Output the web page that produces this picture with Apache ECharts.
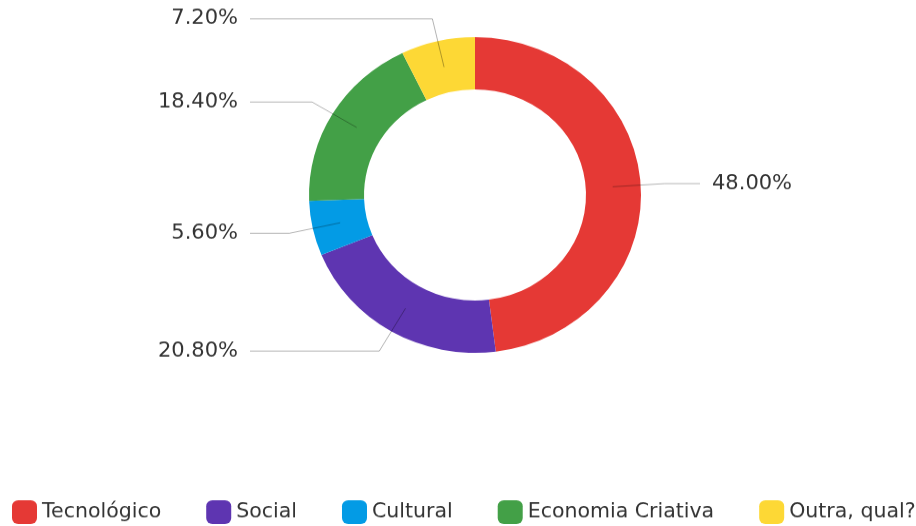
<!DOCTYPE html>
<html>
<head>
<meta charset="utf-8">
<script src="https://cdn.jsdelivr.net/npm/echarts@6/dist/echarts.min.js"></script>
<style>
  html, body { margin: 0; padding: 0; background: #ffffff; overflow: hidden; }
  #chart { width: 916px; height: 553px; transform: scaleY(0.951); transform-origin: 0 0; }
</style>
</head>
<body>
<div id="chart"></div>
<script>
// Área de atuação — participação de cada categoria (%)
const categories = ['Tecnológico', 'Social', 'Cultural', 'Economia Criativa', 'Outra, qual?'];
const shares = [48.0, 20.8, 5.6, 18.4, 7.2];
const palette = ['#e53935', '#5e35b1', '#039be5', '#43a047', '#fdd835'];

const FONT = '"DejaVu Sans", sans-serif';
const CENTER = [475, 205];
// where the horizontal leader segments stop on each side of the ring
const LEADER_END_LEFT = 250;
const LEADER_END_RIGHT = 700;
const LABEL_GAP = 12;

const ringData = categories.map((name, i) => ({
  name: name,
  value: shares[i],
  itemStyle: { color: palette[i] }
}));

// transparent inner disc: its label lines start mid-ring and cross the ring
const leaderData = categories.map((name, i) => ({
  name: name,
  value: shares[i],
  itemStyle: { color: 'rgba(0,0,0,0)' }
}));

const chart = echarts.init(document.getElementById('chart'), null, { renderer: 'canvas' });

chart.setOption({
  animation: false,
  legend: {
    data: categories,
    left: 12,
    bottom: 2,
    width: 904,
    padding: 0,
    icon: 'roundRect',
    itemWidth: 25,
    itemHeight: 25,
    itemGap: 45,
    textStyle: { fontFamily: FONT, fontSize: 20.5, color: '#333333' },
    selectedMode: false
  },
  series: [
    {
      name: 'anel',
      type: 'pie',
      center: CENTER,
      radius: [111, 166],
      startAngle: 90,
      clockwise: true,
      silent: true,
      label: { show: false },
      labelLine: { show: false },
      data: ringData
    },
    {
      name: 'rotulos',
      type: 'pie',
      center: CENTER,
      radius: [0, 138],
      startAngle: 90,
      clockwise: true,
      silent: true,
      z: 5,
      avoidLabelOverlap: false,
      label: {
        show: true,
        position: 'outside',
        fontFamily: FONT,
        fontSize: 21,
        color: '#333333',
        formatter: p => p.value.toFixed(2) + '%'
      },
      labelLine: {
        show: true,
        length: 52,
        length2: 30,
        smooth: false,
        lineStyle: { color: 'rgba(0,0,0,0.3)', width: 1 }
      },
      labelLayout: function (params) {
        const pts = params.labelLinePoints;
        if (!pts) return {};
        const onLeft = pts[1][0] < CENTER[0];
        const endX = onLeft ? LEADER_END_LEFT : LEADER_END_RIGHT;
        const y = pts[1][1];
        return {
          x: onLeft ? endX - LABEL_GAP : endX + LABEL_GAP,
          y: y,
          align: onLeft ? 'right' : 'left',
          verticalAlign: 'middle',
          labelLinePoints: [pts[0], pts[1], [endX, y]]
        };
      },
      data: leaderData
    }
  ]
});
</script>
</body>
</html>
